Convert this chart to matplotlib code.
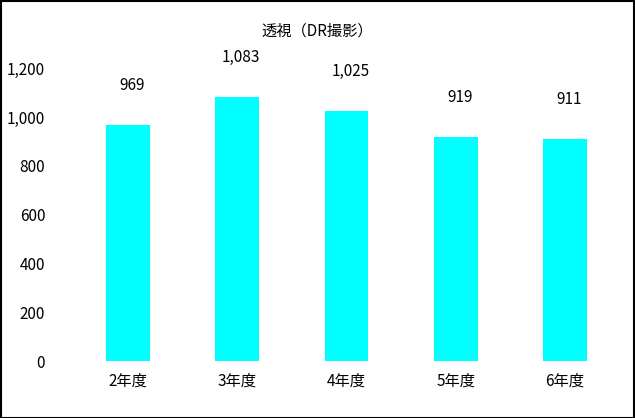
import matplotlib.pyplot as plt
from matplotlib.patches import Rectangle

plt.rcParams['font.family'] = ['Noto Sans CJK JP', 'DejaVu Sans']

years = ['2年度', '3年度', '4年度', '5年度', '6年度']
counts = [969, 1083, 1025, 919, 911]
title = '透視（DR撮影）'


def main():
    fig = plt.figure(figsize=(6.35, 4.18), dpi=100)
    ax = fig.add_axes([0.115, 0.136, 0.861, 0.701])

    x = range(len(years))
    ax.bar(x, counts, width=0.4, color='#00FFFF')
    for i, v in zip(x, counts):
        ax.annotate(f'{v:,}', (i, v), xytext=(3, 22), textcoords='offset points',
                    ha='center', va='bottom', fontsize=11)

    ax.set_xlim(-0.5, len(years) - 0.5)
    ax.set_ylim(0, 1200)
    ax.set_yticks(range(0, 1201, 200))
    ax.set_yticklabels([f'{t:,}' for t in range(0, 1201, 200)])
    ax.set_xticks(list(x))
    ax.set_xticklabels(years)
    ax.tick_params(length=0, labelsize=11, pad=8)
    ax.tick_params(axis='y', pad=20)
    for s in ax.spines.values():
        s.set_visible(False)

    fig.text(0.5, 0.925, title, ha='center', va='center', fontsize=11)
    fig.patches.append(Rectangle((0.001, 0.001), 0.997, 0.997, transform=fig.transFigure,
                                 fill=False, edgecolor='black', linewidth=1.5))
    fig.savefig('out.png', dpi=100)


if __name__ == "__main__":
    main()
